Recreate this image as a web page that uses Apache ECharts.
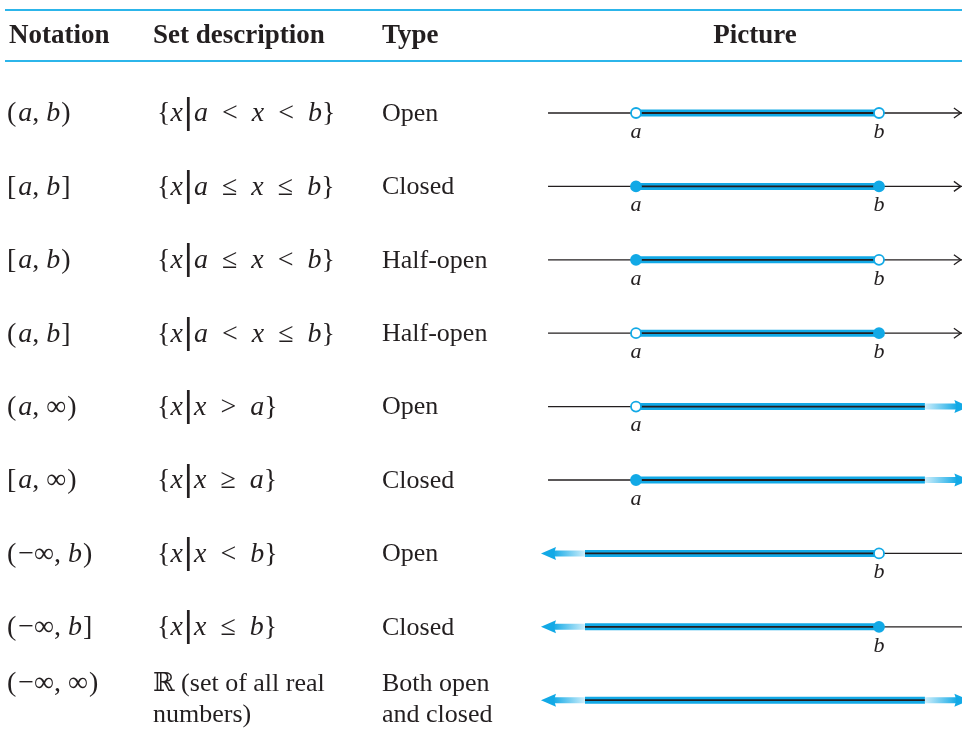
<!DOCTYPE html>
<html>
<head>
<meta charset="utf-8">
<script src="https://cdn.jsdelivr.net/npm/echarts@6/dist/echarts.min.js"></script>
<style>
html,body{margin:0;padding:0;background:#fff;}
#chart{width:962px;height:742px;}
</style>
</head>
<body>
<div id="chart"></div>
<script>
// ---- data ----
const headers = ['Notation', 'Set description', 'Type', 'Picture'];
const notations = ['(a, b)', '[a, b]', '[a, b)', '(a, b]', '(a, ∞)', '[a, ∞)', '(−∞, b)', '(−∞, b]', '(−∞, ∞)'];
const descriptions = ['{x|a  <  x  <  b}', '{x|a  ≤  x  ≤  b}', '{x|a  ≤  x  <  b}', '{x|a  <  x  ≤  b}',
  '{x|x  >  a}', '{x|x  ≥  a}', '{x|x  <  b}', '{x|x  ≤  b}', 'ℝ (set of all real\nnumbers)'];
const types = ['Open', 'Closed', 'Half-open', 'Half-open', 'Open', 'Closed', 'Open', 'Closed', 'Both open\nand closed'];
const leftEnds = ['open', 'closed', 'closed', 'open', 'open', 'closed', 'infinite', 'infinite', 'infinite'];
const rightEnds = ['open', 'closed', 'open', 'closed', 'infinite', 'infinite', 'open', 'closed', 'infinite'];
const endpointLabels = ['a', 'b'];
const endpointValues = [0, 1];

// ---- styling / layout constants (axis units relative to a=0, b=1) ----
const LINE_START = -0.362, LINE_END = 1.337;
const LEFT_TIP = -0.391, LEFT_FADE = -0.210;
const RIGHT_FADE = 1.189, RIGHT_TIP = 1.372;
const BLUE = '#12a9e6', LIGHT = '#cdeefb', INK = '#231f20';
const SERIF = "'Liberation Serif','DejaVu Serif',serif";
const COL_X = [6, 157, 382];

function mathMarkup(s) {
  return s.replace(/[{}|()\[\]−]|\b[abx]\b/g, m => {
    if (m === '{') return '{r|{}';
    if (m === '}') return '}';
    if (m === '|') return '{bar||}';
    if (m === '(' || m === '[') return '{pl|' + m + '}';
    if (m === ')' || m === ']') return '{pr|' + m + '}';
    if (m === '−') return '{mn|−}';
    return '{i|' + m + '}';
  });
}
const MF = 28;
const rich = {
  r: { fontFamily: SERIF, fontSize: MF, fill: INK, lineHeight: 31 },
  pl: { fontFamily: SERIF, fontSize: MF, fill: INK, lineHeight: 31, padding: [0, 2, 0, 1] },
  pr: { fontFamily: SERIF, fontSize: MF, fill: INK, lineHeight: 31, padding: [0, 0, 0, 1] },
  mn: { fontFamily: SERIF, fontSize: MF, fill: INK, lineHeight: 31 },
  i: { fontFamily: SERIF, fontSize: MF, fontStyle: 'italic', fill: INK, lineHeight: 31 },
  bar: { fontFamily: 'DejaVu Sans', fontSize: 33, fill: INK, lineHeight: 31 }
};

const chart = echarts.init(document.getElementById('chart'), null, { renderer: 'canvas' });

function renderItem(params, api) {
  const i = params.dataIndex;
  const y = api.coord([0, i])[1];
  const px = v => api.coord([v, i])[0];
  const A = px(endpointValues[0]), B = px(endpointValues[1]);
  const lInf = leftEnds[i] === 'infinite', rInf = rightEnds[i] === 'infinite';
  const ch = [];
  // thin black number line
  if (!lInf) ch.push({ type: 'line', shape: { x1: px(LINE_START), y1: y, x2: A, y2: y }, style: { stroke: INK, lineWidth: 1.3 } });
  if (!rInf) {
    ch.push({ type: 'line', shape: { x1: B, y1: y, x2: px(LINE_END) + 3, y2: y }, style: { stroke: INK, lineWidth: 1.3 } });
    if (!lInf) {
      const t = px(LINE_END);
      ch.push({ type: 'polyline', shape: { points: [[t - 7, y - 5], [t, y], [t - 7, y + 5]] }, style: { stroke: INK, lineWidth: 1.3, fill: null } });
    }
  }
  // blue band
  const s = lInf ? px(LEFT_FADE) : A;
  const e = rInf ? px(RIGHT_FADE) : B;
  ch.push({ type: 'rect', shape: { x: s, y: y - 3.5, width: e - s, height: 7 }, style: { fill: BLUE } });
  ch.push({ type: 'line', shape: { x1: s, y1: y, x2: e, y2: y }, style: { stroke: INK, lineWidth: 1.8 } });
  if (lInf) {
    const tip = px(LEFT_TIP), back = tip + 13;
    ch.push({ type: 'rect', shape: { x: back - 1, y: y - 3, width: px(LEFT_FADE) - back + 1, height: 6 },
      style: { fill: new echarts.graphic.LinearGradient(0, 0, 1, 0, [{ offset: 0, color: BLUE }, { offset: 1, color: LIGHT }]) } });
    ch.push({ type: 'polygon', shape: { points: [[tip, y], [back + 2, y - 6.5], [back, y], [back + 2, y + 6.5]] }, style: { fill: BLUE } });
  }
  if (rInf) {
    const tip = px(RIGHT_TIP), back = tip - 13;
    ch.push({ type: 'rect', shape: { x: px(RIGHT_FADE), y: y - 3, width: back - px(RIGHT_FADE) + 1, height: 6 },
      style: { fill: new echarts.graphic.LinearGradient(0, 0, 1, 0, [{ offset: 0, color: LIGHT }, { offset: 1, color: BLUE }]) } });
    ch.push({ type: 'polygon', shape: { points: [[tip, y], [back - 2, y - 6.5], [back, y], [back - 2, y + 6.5]] }, style: { fill: BLUE } });
  }
  // endpoints
  [[leftEnds[i], A, 0], [rightEnds[i], B, 1]].forEach(([kind, x, k]) => {
    if (kind === 'infinite') return;
    ch.push({ type: 'circle', shape: { cx: x, cy: y, r: 5 },
      style: { fill: kind === 'open' ? '#fff' : BLUE, stroke: BLUE, lineWidth: 1.8 } });
    ch.push({ type: 'text', x: x, y: y + 19,
      style: { text: endpointLabels[k], fontFamily: SERIF, fontSize: 22, fontStyle: 'italic', fill: INK, align: 'center', verticalAlign: 'middle' } });
  });
  // table text columns
  const multi = descriptions[i].indexOf('\n') >= 0 || types[i].indexOf('\n') >= 0;
  const top = multi ? y - 32 : y - 14.5;
  const isMath = descriptions[i].indexOf('\n') < 0;
  const cols = [mathMarkup(notations[i]), isMath ? mathMarkup(descriptions[i]) : descriptions[i], types[i]];
  cols.forEach((txt, k) => {
    const math = k === 0 || (k === 1 && isMath);
    ch.push({ type: 'text', x: (k === 1 && !isMath) ? 153 : COL_X[k], y: top,
      style: { text: txt, rich: rich, fontFamily: SERIF, fontSize: math ? MF : 26, fill: INK, lineHeight: 31, align: 'left', verticalAlign: 'top' } });
  });
  return { type: 'group', children: ch };
}

const HF = 27;
const option = {
  animation: false,
  backgroundColor: '#fff',
  grid: { left: 538.8, top: 76.3, right: 0.38, height: 660.6, containLabel: false },
  xAxis: { type: 'value', min: -0.4, max: 1.34, show: false },
  yAxis: { type: 'category', inverse: true, data: notations, show: false, boundaryGap: true },
  graphic: [
    { type: 'line', shape: { x1: 5, y1: 10, x2: 962, y2: 10 }, style: { stroke: '#2cb5ea', lineWidth: 2 } },
    { type: 'line', shape: { x1: 5, y1: 61, x2: 962, y2: 61 }, style: { stroke: '#2cb5ea', lineWidth: 2 } },
    { type: 'text', x: 9, y: 36, style: { text: headers[0], fontFamily: SERIF, fontWeight: 'bold', fontSize: HF, fill: INK, verticalAlign: 'middle' } },
    { type: 'text', x: 153, y: 36, style: { text: headers[1], fontFamily: SERIF, fontWeight: 'bold', fontSize: HF, fill: INK, verticalAlign: 'middle' } },
    { type: 'text', x: 382, y: 36, style: { text: headers[2], fontFamily: SERIF, fontWeight: 'bold', fontSize: HF, fill: INK, verticalAlign: 'middle' } },
    { type: 'text', x: 755, y: 36, style: { text: headers[3], fontFamily: SERIF, fontWeight: 'bold', fontSize: HF, fill: INK, align: 'center', verticalAlign: 'middle' } }
  ],
  series: [{
    type: 'custom',
    clip: false,
    renderItem: renderItem,
    data: notations.map((_, i) => [0, i])
  }]
};
chart.setOption(option);
</script>
</body>
</html>
